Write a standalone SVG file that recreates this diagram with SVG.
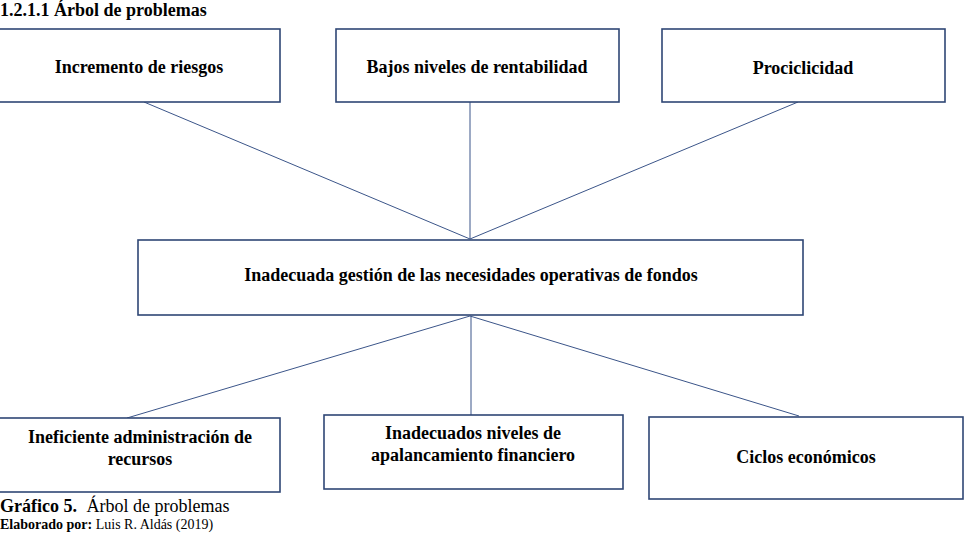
<svg xmlns="http://www.w3.org/2000/svg" width="978" height="551" viewBox="0 0 978 551">
<style>
.box{fill:#fff;stroke:#2f4675;stroke-width:1.6}
.lbl{font-family:"Liberation Serif","Times New Roman",serif;font-weight:bold;font-size:18px;fill:#000;text-anchor:middle}
.con{stroke:#3b5589;stroke-width:1;fill:none}
.t{font-family:"Liberation Serif","Times New Roman",serif;fill:#000}
</style>
<rect width="978" height="551" fill="#fff"/>
<text class="t" x="0" y="16" font-size="18" font-weight="bold">1.2.1.1 Árbol de problemas</text>
<g id="connectors">
<line class="con" x1="144" y1="102" x2="470" y2="239"/>
<line class="con" x1="470" y1="102" x2="470" y2="239"/>
<line class="con" x1="798" y1="102" x2="470" y2="239"/>
<line class="con" x1="470" y1="316" x2="127" y2="418"/>
<line class="con" x1="471" y1="316" x2="471" y2="415"/>
<line class="con" x1="470" y1="316" x2="799" y2="416"/>
</g>
<g id="n1"><rect class="box" x="-1" y="29" width="281" height="73"/><text class="lbl" x="139" y="73">Incremento de riesgos</text></g>
<g id="n2"><rect class="box" x="336" y="29" width="283" height="73"/><text class="lbl" x="477" y="73">Bajos niveles de rentabilidad</text></g>
<g id="n3"><rect class="box" x="662" y="29" width="283" height="73"/><text class="lbl" x="803" y="74">Prociclicidad</text></g>
<g id="n4"><rect class="box" x="138" y="240" width="665" height="75"/><text class="lbl" x="471" y="281">Inadecuada gestión de las necesidades operativas de fondos</text></g>
<g id="n5"><rect class="box" x="-1" y="418" width="281" height="74"/><text class="lbl" x="140" y="443">Ineficiente administración de</text><text class="lbl" x="140" y="465">recursos</text></g>
<g id="n6"><rect class="box" x="324" y="415" width="299" height="74"/><text class="lbl" x="473" y="439">Inadecuados niveles de</text><text class="lbl" x="473" y="461">apalancamiento financiero</text></g>
<g id="n7"><rect class="box" x="649" y="417" width="314" height="82"/><text class="lbl" x="806" y="463">Ciclos económicos</text></g>
<text class="t" x="0" y="512" font-size="18"><tspan font-weight="bold">Gráfico 5.</tspan><tspan dx="5"> Árbol de problemas</tspan></text>
<text class="t" x="0" y="529" font-size="14"><tspan font-weight="bold">Elaborado por:</tspan> Luis R. Aldás (2019)</text>
</svg>
